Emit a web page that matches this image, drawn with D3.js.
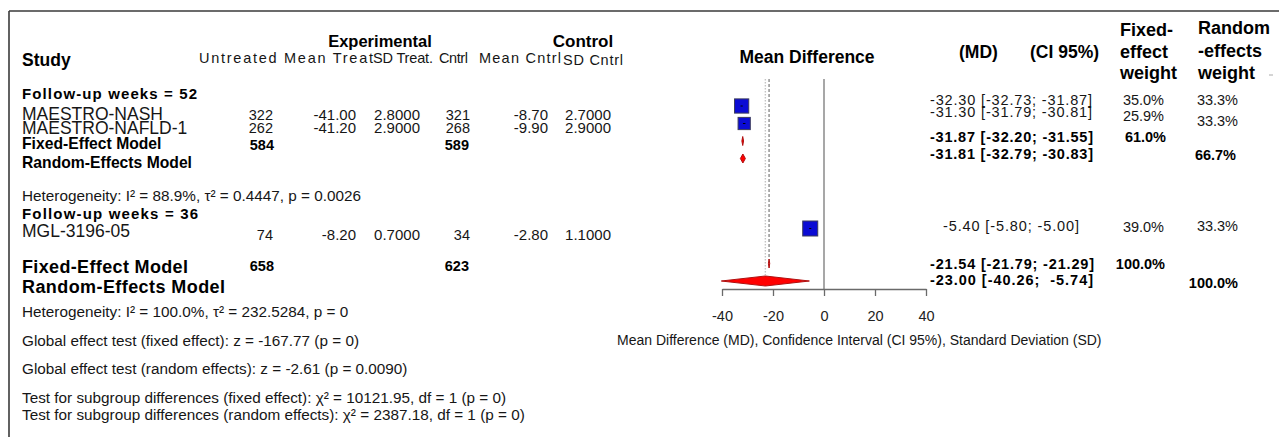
<!DOCTYPE html>
<html>
<head>
<meta charset="utf-8">
<script src="https://cdn.jsdelivr.net/npm/d3@7"></script>
<style>
  body { margin: 0; background: #fff; }
  text { font-family: "Liberation Sans", Arial, sans-serif; white-space: pre; }
</style>
</head>
<body>
<script>
// Données des études
const studies = ['MAESTRO-NASH', 'MAESTRO-NAFLD-1', 'MGL-3196-05']
const nTreat = [322, 262, 74]
const meanTreat = [-41.00, -41.20, -8.20]
const sdTreat = [2.8, 2.9, 0.7]
const nCntrl = [321, 268, 34]
const meanCntrl = [-8.70, -9.90, -2.80]
const sdCntrl = [2.7, 2.9, 1.1]
const md = [-32.30, -31.30, -5.40]
const mdLow = [-32.73, -31.79, -5.80]
const mdHigh = [-31.87, -30.81, -5.00]
const wFixed = [35.0, 25.9, 39.0]
const wRandom = [33.3, 33.3, 33.3]

// Modèles : sous-groupe 52 semaines puis global
const modelLabels = ['Fixed-Effect Model', 'Random-Effects Model']
const subN = [584, 589]
const subMd = [-31.87, -31.81]
const subLow = [-32.20, -32.79]
const subHigh = [-31.55, -30.83]
const subW = [61.0, 66.7]
const totN = [658, 623]
const totMd = [-21.54, -23.00]
const totLow = [-21.79, -40.26]
const totHigh = [-21.29, -5.74]
const totW = [100.0, 100.0]

const groupLabels = ['Follow-up weeks = 52', 'Follow-up weeks = 36']
const colHeaders = ['Untreated Mean Treat', 'SD Treat.', 'Cntrl', 'Mean Cntrl', 'SD Cntrl']
const heterogeneity = ['Heterogeneity: I² = 88.9%, τ² = 0.4447, p = 0.0026',
  'Heterogeneity: I² = 100.0%, τ² = 232.5284, p = 0']
const tests = ['Global effect test (fixed effect): z = -167.77 (p = 0)',
  'Global effect test (random effects): z = -2.61 (p = 0.0090)',
  'Test for subgroup differences (fixed effect): χ² = 10121.95, df = 1 (p = 0)',
  'Test for subgroup differences (random effects): χ² = 2387.18, df = 1 (p = 0)']
const xTicks = [-40, -20, 0, 20, 40]
const axisTitle = 'Mean Difference (MD), Confidence Interval (CI 95%), Standard Deviation (SD)'

const loc = d3.formatLocale({ decimal: '.', thousands: ',', grouping: [3], currency: ['', ''], minus: '-' })
const f1 = loc.format('.1f'), f2 = loc.format('.2f'), f4 = loc.format('.4f')
const ci = (m, l, h, pad) => f2(m) + ' [' + f2(l) + '; ' + (pad ? f2(h).padStart(6) : f2(h)) + ']'

const width = 1279, height = 437
const svg = d3.select('body').append('svg').attr('width', width).attr('height', height)

function txt(x, y, s, o = {}) {
  const t = svg.append('text').attr('x', x).attr('y', y).attr('dy', '0.35em').text(s)
    .attr('font-size', o.size || 15)
    .attr('text-anchor', o.anchor || 'start')
    .attr('fill', o.fill || '#161616')
  if (o.bold) t.attr('font-weight', 'bold')
  if (o.len) t.attr('textLength', o.len).attr('lengthAdjust', 'spacing')
  return t
}

//Cadre
svg.append('line').attr('x1', 9).attr('y1', 11).attr('x2', width).attr('y2', 11).attr('stroke', '#3a3a3a').attr('stroke-width', 1.6)
svg.append('line').attr('x1', 9).attr('y1', 11).attr('x2', 9).attr('y2', height).attr('stroke', '#3a3a3a').attr('stroke-width', 1.6)

//En-têtes du tableau
txt(380, 41, 'Experimental', { size: 16.5, bold: true, anchor: 'middle', fill: '#000' })
txt(583, 41, 'Control', { size: 17, bold: true, anchor: 'middle', fill: '#000' })
txt(22, 60, 'Study', { size: 17.5, bold: true, fill: '#000' })
const headX = [199, 373, 439, 479, 563], headW = [174, 60, 29, 82, 60], headY = [58, 58, 58, 58, 60]
colHeaders.forEach((h, i) => txt(headX[i], headY[i], h, { size: 14.5, len: headW[i] }))

txt(807, 57, 'Mean Difference', { size: 17.5, bold: true, anchor: 'middle', fill: '#000' })
txt(959, 52, '(MD)', { size: 17.5, bold: true, fill: '#000' })
txt(1030, 52, '(CI 95%)', { size: 17.5, bold: true, fill: '#000' })
;['Fixed-', 'effect', 'weight'].forEach((s, i) => txt(1120, [30, 52, 73][i], s, { size: 18, bold: true, fill: '#000' }))
;['Random', '-effects', 'weight'].forEach((s, i) => txt(1198, [28, 51, 73][i], s, { size: 18, bold: true, fill: '#000' }))
svg.append('line').attr('x1', 1269).attr('y1', 75).attr('x2', 1273).attr('y2', 75).attr('stroke', '#aaa')

//Colonnes numériques (ancrées à droite)
const colEnd = { nT: 273, mT: 356, sT: 420, nC: 470, mC: 548, sC: 611 }
const leftY = [114, 128, 231]
const numY = [115, 128, 235]
txt(22, 94, groupLabels[0], { size: 15, bold: true, len: 175, fill: '#000' })
txt(22, 214, groupLabels[1], { size: 15, bold: true, len: 176, fill: '#000' })
studies.forEach((s, i) => {
  txt(22, leftY[i], s, { size: 17.5 })
  txt(colEnd.nT, numY[i], nTreat[i], { size: 14.5, anchor: 'end' })
  txt(colEnd.mT, numY[i], f2(meanTreat[i]), { size: 15, anchor: 'end' })
  txt(colEnd.sT, numY[i], f4(sdTreat[i]), { size: 15, anchor: 'end' })
  txt(colEnd.nC, numY[i], nCntrl[i], { size: 14.5, anchor: 'end' })
  txt(colEnd.mC, numY[i], f2(meanCntrl[i]), { size: 15, anchor: 'end' })
  txt(colEnd.sC, numY[i], f4(sdCntrl[i]), { size: 15, anchor: 'end' })
})
//Modèles du sous-groupe
txt(22, 144, modelLabels[0], { size: 15.7, bold: true, fill: '#000' })
txt(22, 163, modelLabels[1], { size: 15.7, bold: true, fill: '#000' })
txt(colEnd.nT + 1, 145, subN[0], { size: 14.5, bold: true, anchor: 'end', fill: '#000' })
txt(colEnd.nC - 1, 145, subN[1], { size: 14.5, bold: true, anchor: 'end', fill: '#000' })
//Modèles globaux
txt(22, 267, modelLabels[0], { size: 18, bold: true, len: 166, fill: '#000' })
txt(22, 287, modelLabels[1], { size: 18, bold: true, len: 203, fill: '#000' })
txt(colEnd.nT + 1, 266, totN[0], { size: 14.5, bold: true, anchor: 'end', fill: '#000' })
txt(colEnd.nC - 1, 266, totN[1], { size: 14.5, bold: true, anchor: 'end', fill: '#000' })

//Textes du bas
txt(22, 196, heterogeneity[0], { size: 15.3 })
txt(22, 312, heterogeneity[1], { size: 15.3 })
;[341, 369, 398, 415].forEach((y, i) => txt(22, y, tests[i], { size: 15.3 }))

//Colonne de droite : MD [IC], poids
const ciY = [100, 112, 226]
studies.forEach((s, i) => {
  txt(i === 2 ? 943 : 930, ciY[i], ci(md[i], mdLow[i], mdHigh[i]), { size: 14.5, len: i === 2 ? 136 : 162 })
  txt(1164, [100, 116, 227][i], f1(wFixed[i]) + '%', { size: 14.5, anchor: 'end' })
  txt(1238, [100, 121, 226][i], f1(wRandom[i]) + '%', { size: 14.5, anchor: 'end' })
})
txt(930, 137, ci(subMd[0], subLow[0], subHigh[0], true), { size: 14.5, bold: true, len: 163, fill: '#000' })
txt(930, 154, ci(subMd[1], subLow[1], subHigh[1], true), { size: 14.5, bold: true, len: 163, fill: '#000' })
txt(1166, 137, f1(subW[0]) + '%', { size: 14.5, bold: true, anchor: 'end', fill: '#000' })
txt(1236, 155, f1(subW[1]) + '%', { size: 14.5, bold: true, anchor: 'end', fill: '#000' })
txt(930, 264, ci(totMd[0], totLow[0], totHigh[0], true), { size: 14.5, bold: true, len: 164, fill: '#000' })
txt(930, 280, ci(totMd[1], totLow[1], totHigh[1], true), { size: 14.5, bold: true, len: 163, fill: '#000' })
txt(1165, 264, f1(totW[0]) + '%', { size: 14.5, bold: true, anchor: 'end', fill: '#000' })
txt(1238, 283, f1(totW[1]) + '%', { size: 14.5, bold: true, anchor: 'end', fill: '#000' })

//Graphique forest
const x = d3.scaleLinear().domain([-40, 40]).range([722, 926])
const yRow = d3.scaleLinear().domain([0, 10]).range([106, 281])
const studyRow = [0, 1, 7]
const size = d3.scaleSqrt().domain([0, 39]).range([0, 15])
const plot = svg.append('g').attr('class', 'forest')

//Ligne zéro
plot.append('line').attr('x1', x(0)).attr('x2', x(0)).attr('y1', 79).attr('y2', 289)
  .attr('stroke', '#8a8a8a').attr('stroke-width', 1.5)
//Lignes des effets globaux (aléatoire pointillé clair, fixe tirets)
plot.append('line').attr('x1', x(totMd[1])).attr('x2', x(totMd[1])).attr('y1', 79).attr('y2', yRow(10) - 6)
  .attr('stroke', '#c4c4c4').attr('stroke-width', 1.4).attr('stroke-dasharray', '1.5,1.5')
plot.append('line').attr('x1', x(totMd[0])).attr('x2', x(totMd[0])).attr('y1', 79).attr('y2', yRow(9) - 4)
  .attr('stroke', '#8c8c8c').attr('stroke-width', 1.4).attr('stroke-dasharray', '3,2')

//Carrés des études
studies.forEach((s, i) => {
  const side = size(wFixed[i]), cy = yRow(studyRow[i])
  plot.append('rect').attr('x', x(md[i]) - side / 2).attr('y', cy - side / 2)
    .attr('width', side).attr('height', side)
    .attr('fill', '#0b0bd4').attr('stroke', '#3c3c5c').attr('stroke-width', 1)
  plot.append('line').attr('x1', x(mdLow[i])).attr('x2', x(mdHigh[i])).attr('y1', cy).attr('y2', cy)
    .attr('stroke', '#000').attr('stroke-width', 1)
})

//Losanges
function diamond(m, l, h, row, half) {
  const cy = yRow(row)
  plot.append('path')
    .attr('d', 'M' + x(l) + ',' + cy + 'L' + x(m) + ',' + (cy - half) + 'L' + x(h) + ',' + cy + 'L' + x(m) + ',' + (cy + half) + 'Z')
    .attr('fill', '#ff0000').attr('stroke', '#b01010').attr('stroke-width', 1)
}
diamond(subMd[0], subLow[0], subHigh[0], 2, 4.5)
diamond(subMd[1], subLow[1], subHigh[1], 3, 4.5)
diamond(totMd[0], totLow[0], totHigh[0], 9, 4.5)
diamond(totMd[1], totLow[1], totHigh[1], 10, 5)

//Axe
const axis = plot.append('g').attr('transform', 'translate(0,289)')
  .call(d3.axisBottom(x).tickValues(xTicks).tickFormat(loc.format('d')).tickSize(7).tickSizeOuter(0).tickPadding(15))
axis.select('.domain').attr('stroke', '#6a6a6a').attr('stroke-width', 1.3)
axis.selectAll('.tick line').attr('stroke', '#6a6a6a').attr('stroke-width', 1.3)
axis.selectAll('.tick text').attr('font-size', 14.5).attr('fill', '#222')
  .attr('font-family', '"Liberation Sans", Arial, sans-serif')
txt(617, 340, axisTitle, { size: 14 })
</script>
</body>
</html>
